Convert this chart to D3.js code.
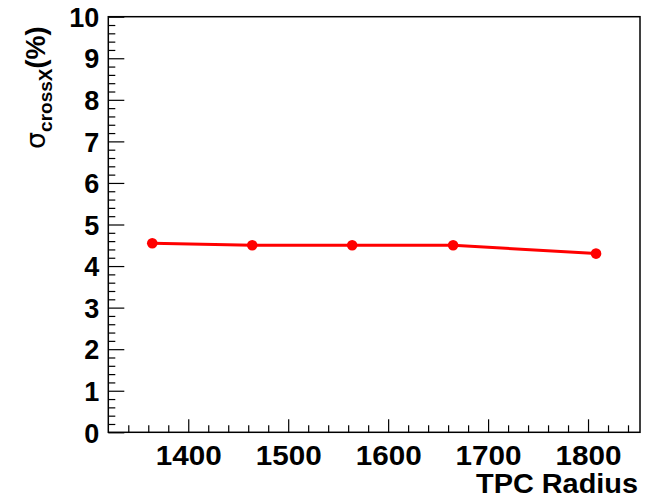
<!DOCTYPE html>
<html>
<head>
<meta charset="utf-8">
<script src="https://cdn.jsdelivr.net/npm/d3@7"></script>
<style>
  body { margin: 0; background: #fff; }
  text { font-family: "Liberation Sans", Arial, sans-serif; }
</style>
</head>
<body>
<div id="chart"></div>
<script>
// data
var radius = [1364, 1464, 1564, 1665, 1808];
var sigmaCross = [4.55, 4.5, 4.5, 4.5, 4.3];
var xTicks = [1400, 1500, 1600, 1700, 1800];
var yTicks = [0, 1, 2, 3, 4, 5, 6, 7, 8, 9, 10];

var svgWidth = 654;
var svgHeight = 498;

var margin = { top: 16.7, right: 14, bottom: 65.7, left: 108.3 };
var width = svgWidth - margin.left - margin.right;
var height = svgHeight - margin.top - margin.bottom;

var svg = d3.select("#chart")
  .append("svg")
  .attr("width", svgWidth)
  .attr("height", svgHeight);

var chartGroup = svg.append("g")
  .attr("transform", `translate(${margin.left}, ${margin.top})`);

var xScale = d3.scaleLinear().domain([1320, 1852]).range([0, width]);
var yScale = d3.scaleLinear().domain([0, 10]).range([height, 0]);

// minor ticks every 20 on x, 0.2 on y
var xMinor = d3.range(1340, 1852, 20).filter(v => v % 100 !== 0);
var yMinor = d3.range(0, 10.01, 0.2).map(v => +v.toFixed(1)).filter(v => Math.abs(v - Math.round(v)) > 0.01);

// x axis
var xMinorAxis = chartGroup.append("g")
  .attr("transform", `translate(0, ${height})`)
  .call(d3.axisBottom(xScale).tickValues(xMinor).tickSize(-7).tickFormat(""));
var xAxis = chartGroup.append("g")
  .attr("transform", `translate(0, ${height})`)
  .call(d3.axisBottom(xScale).tickValues(xTicks).tickSize(-13).tickFormat(d3.format("d")));
xAxis.selectAll("text")
  .attr("y", 33)
  .attr("dy", null)
  .attr("font-size", 28)
  .attr("font-weight", "bold")
  .attr("textLength", 66)
  .attr("lengthAdjust", "spacingAndGlyphs")
  .attr("fill", "#000");

// y axis
var yMinorAxis = chartGroup.append("g")
  .call(d3.axisLeft(yScale).tickValues(yMinor).tickSize(-7).tickFormat(""));
var yAxis = chartGroup.append("g")
  .call(d3.axisLeft(yScale).tickValues(yTicks).tickSize(-16).tickPadding(9).tickFormat(d3.format("d")));
yAxis.selectAll("text")
  .attr("dy", "0.36em")
  .attr("font-size", 27)
  .attr("font-weight", "bold")
  .attr("fill", "#000");

[xMinorAxis, xAxis, yMinorAxis, yAxis].forEach(function (g) {
  g.select(".domain").remove();
  g.selectAll("line").attr("stroke", "#000").attr("stroke-width", 1.2);
  g.attr("font-family", null);
});

// frame
chartGroup.append("rect")
  .attr("x", 0)
  .attr("y", 0)
  .attr("width", width)
  .attr("height", height)
  .attr("fill", "none")
  .attr("stroke", "#000")
  .attr("stroke-width", 1.5);

// data line + markers
var points = radius.map((r, i) => ({ r: r, s: sigmaCross[i] }));

var line = d3.line()
  .x(d => xScale(d.r))
  .y(d => yScale(d.s));

chartGroup.append("path")
  .datum(points)
  .attr("d", line)
  .attr("fill", "none")
  .attr("stroke", "#ff0000")
  .attr("stroke-width", 3);

chartGroup.selectAll("circle")
  .data(points)
  .enter()
  .append("circle")
  .attr("cx", d => xScale(d.r))
  .attr("cy", d => yScale(d.s))
  .attr("r", 5.3)
  .attr("fill", "#ff0000");

// axis titles
svg.append("text")
  .attr("x", 638)
  .attr("y", 493)
  .attr("text-anchor", "end")
  .attr("font-size", 27)
  .attr("font-weight", "bold")
  .attr("textLength", 162)
  .attr("lengthAdjust", "spacingAndGlyphs")
  .text("TPC Radius");

var yTitle = svg.append("text")
  .attr("transform", "translate(45, 149) rotate(-90)")
  .attr("text-anchor", "start");
yTitle.append("tspan")
  .attr("font-size", 27)
  .style("font-family", "DejaVu Sans, sans-serif")
  .text("σ");
yTitle.append("tspan")
  .attr("font-size", 19)
  .attr("font-weight", "bold")
  .attr("dy", 7)
  .text("crossX");
yTitle.append("tspan")
  .attr("font-size", 27)
  .attr("font-weight", "bold")
  .attr("dy", -7)
  .text("(%)");
</script>
</body>
</html>
